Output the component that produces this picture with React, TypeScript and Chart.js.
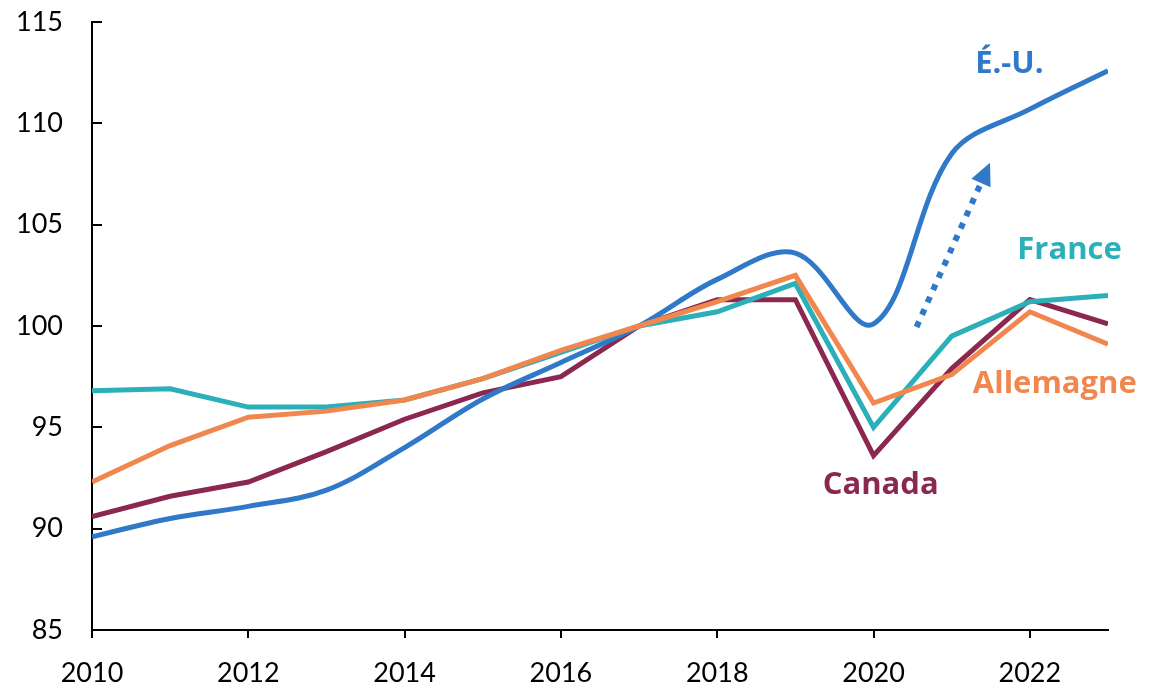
import React, { useEffect, useRef } from "react";
import { Chart, registerables } from "chart.js";

Chart.register(...registerables);

const years = [2010, 2011, 2012, 2013, 2014, 2015, 2016, 2017, 2018, 2019, 2020, 2021, 2022, 2023];
const usValues = [89.6, 90.5, 91.1, 91.9, 94.0, 96.4, 98.2, 100.0, 102.3, 103.6, 100.1, 108.5, 110.7, 112.6];
const canadaValues = [90.6, 91.6, 92.3, 93.8, 95.4, 96.7, 97.5, 100.0, 101.3, 101.3, 93.6, 97.9, 101.3, 100.1];
const franceValues = [96.8, 96.9, 96.0, 96.0, 96.35, 97.4, 98.7, 100.0, 100.7, 102.1, 95.0, 99.5, 101.2, 101.5];
const germanyValues = [92.3, 94.1, 95.5, 95.8, 96.35, 97.4, 98.8, 100.0, 101.2, 102.5, 96.2, 97.6, 100.7, 99.1];

const yTickValues = [85, 90, 95, 100, 105, 110, 115];

const seriesNames = ["É.-U.", "Canada", "France", "Allemagne"];
const seriesColors = ["#2F79C8", "#8B2850", "#2BB0B9", "#F0874F"];
// label anchor (left x, baseline y) in data units
const labelX = [2021.3, 2019.35, 2021.84, 2021.27];
const labelY = [112.5, 91.7, 103.3, 96.7];
// dotted arrow in data units: tail, tip
const arrowFrom = [2020.55, 99.95];
const arrowTo = [2021.49, 108.05];

const FONT = "Lato, 'Open Sans', sans-serif";
const LABEL_FONT = "'Open Sans', Lato, sans-serif";

const annotPlugin = {
  id: "annot",
  beforeDatasetsDraw(chart: any) {
    const { ctx, scales, chartArea } = chart;
    const y = scales.y;
    ctx.save();
    ctx.strokeStyle = "#000";
    ctx.lineWidth = 2;
    yTickValues.forEach((v) => {
      const py = Math.round(y.getPixelForValue(v));
      ctx.beginPath();
      ctx.moveTo(chartArea.left, py);
      ctx.lineTo(chartArea.left + 10, py);
      ctx.stroke();
    });
    ctx.restore();
  },
  afterDatasetsDraw(chart: any) {
    const { ctx, scales } = chart;
    const x = scales.x;
    const y = scales.y;
    ctx.save();
    // labels
    ctx.font = `bold 31px ${LABEL_FONT}`;
    ctx.textAlign = "left";
    ctx.textBaseline = "alphabetic";
    seriesNames.forEach((name, i) => {
      ctx.fillStyle = seriesColors[i];
      ctx.fillText(name, x.getPixelForValue(labelX[i]), y.getPixelForValue(labelY[i]));
    });
    // dotted arrow
    const x0 = x.getPixelForValue(arrowFrom[0]);
    const y0 = y.getPixelForValue(arrowFrom[1]);
    const x1 = x.getPixelForValue(arrowTo[0]);
    const y1 = y.getPixelForValue(arrowTo[1]);
    const dx = x1 - x0;
    const dy = y1 - y0;
    const len = Math.sqrt(dx * dx + dy * dy);
    const ux = dx / len;
    const uy = dy / len;
    const headLen = 22;
    const headHalf = 10.5;
    const bx = x1 - ux * headLen;
    const by = y1 - uy * headLen;
    ctx.strokeStyle = seriesColors[0];
    ctx.fillStyle = seriesColors[0];
    ctx.lineWidth = 6;
    ctx.lineCap = "butt";
    ctx.setLineDash([6, 7.5]);
    ctx.beginPath();
    ctx.moveTo(x0, y0);
    ctx.lineTo(bx + ux * 2, by + uy * 2);
    ctx.stroke();
    ctx.setLineDash([]);
    ctx.beginPath();
    ctx.moveTo(x1, y1);
    ctx.lineTo(bx - uy * headHalf, by + ux * headHalf);
    ctx.lineTo(bx + uy * headHalf, by - ux * headHalf);
    ctx.closePath();
    ctx.fill();
    ctx.restore();
  },
};

export default function App() {
  const canvasRef = useRef<HTMLCanvasElement | null>(null);

  useEffect(() => {
    const canvas = canvasRef.current;
    if (!canvas) return;
    const allValues = [usValues, canadaValues, franceValues, germanyValues];
    const orders = [2, 3, 1, 0];
    const tensions = [0.35, 0, 0, 0];
    const chart = new Chart(canvas, {
      type: "line",
      data: {
        datasets: seriesNames.map((name, i) => ({
          label: name,
          data: years.map((yr, j) => ({ x: yr, y: allValues[i][j] })),
          borderColor: seriesColors[i],
          backgroundColor: seriesColors[i],
          borderWidth: 5,
          pointRadius: 0,
          pointHoverRadius: 0,
          tension: tensions[i],
          fill: false,
          order: orders[i],
        })),
      },
      options: {
        animation: false,
        responsive: false,
        devicePixelRatio: 1,
        layout: { padding: { top: 22, right: 52, left: 0, bottom: 0 } },
        plugins: {
          legend: { display: false },
          tooltip: { enabled: false },
          title: { display: false },
        },
        events: [],
        scales: {
          x: {
            type: "linear",
            min: 2010,
            max: 2023,
            grid: {
              display: true,
              drawOnChartArea: false,
              drawTicks: true,
              tickLength: 8,
              color: "#000",
              lineWidth: 2,
            },
            border: { display: true, color: "#000", width: 2 },
            ticks: {
              stepSize: 2,
              includeBounds: false,
              maxRotation: 0,
              autoSkip: false,
              padding: 19,
              color: "#000",
              font: { family: FONT, size: 27 },
              callback: (v: any) => String(v),
            },
            afterFit: (s: any) => {
              s.height = 56;
              s.paddingLeft = 0;
              s.paddingRight = 0;
            },
          },
          y: {
            min: 85,
            max: 115,
            grid: { display: false },
            border: { display: true, color: "#000", width: 2 },
            ticks: {
              stepSize: 5,
              padding: 21,
              color: "#000",
              font: { family: FONT, size: 27 },
              callback: (v: any) => String(v),
            },
            afterFit: (s: any) => {
              s.width = 92;
              s.paddingTop = 0;
              s.paddingBottom = 0;
            },
          },
        },
      },
      plugins: [annotPlugin],
    });
    let alive = true;
    if ((document as any).fonts && (document as any).fonts.load) {
      Promise.all([
        (document as any).fonts.load(`bold 31px 'Open Sans'`),
        (document as any).fonts.load(`27px Lato`),
      ]).then(() => {
        if (alive) chart.update();
      }).catch(() => {});
    }
    return () => {
      alive = false;
      chart.destroy();
    };
  }, []);

  return (
    <div style={{ position: "absolute", left: 0, top: 0, width: 1160, height: 686, background: "#fff" }}>
      <canvas ref={canvasRef} width={1160} height={686} style={{ display: "block" }} />
    </div>
  );
}
